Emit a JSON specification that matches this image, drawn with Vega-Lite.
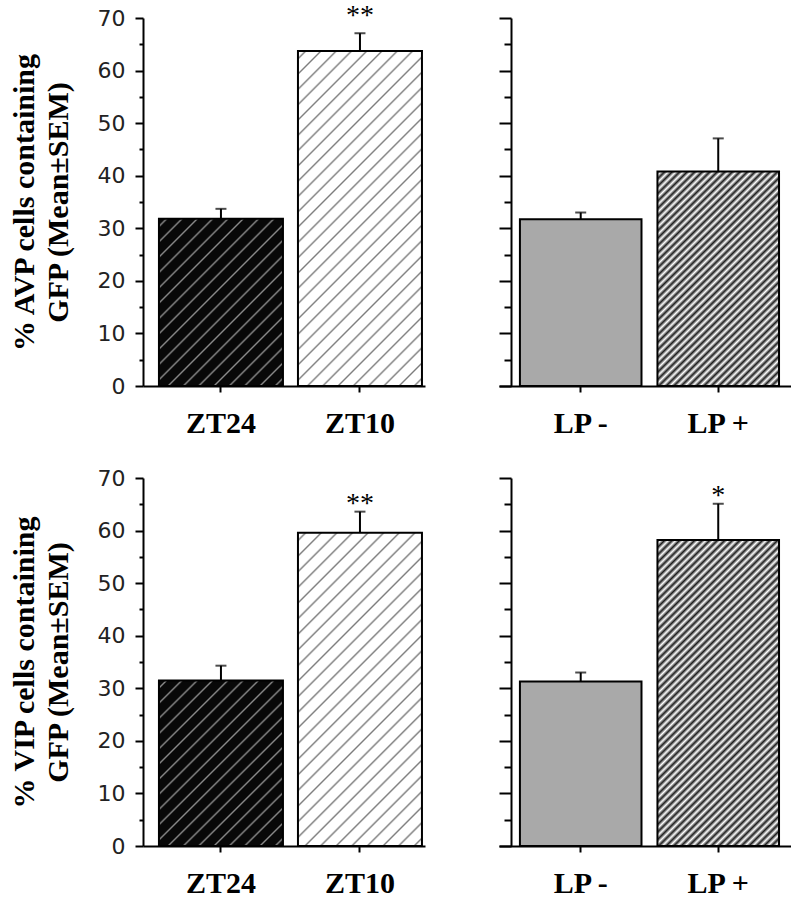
{
  "$schema": "https://vega.github.io/schema/vega-lite/v6.json",
  "background": "white",
  "padding": {"left": 8, "top": 2, "right": 0, "bottom": 0},
  "config": {
    "view": {"stroke": null},
    "axis": {"domainColor": "#000", "tickColor": "#000", "domainWidth": 2, "tickWidth": 2, "grid": false}
  },
  "data": {"values": [
    {"row": "AVP", "panel": "ZT", "group": "ZT24", "mean": 31.8, "err": 33.7, "sig": ""},
    {"row": "AVP", "panel": "ZT", "group": "ZT10", "mean": 63.7, "err": 67.1, "sig": "**"},
    {"row": "AVP", "panel": "LP", "group": "LP -", "mean": 31.7, "err": 33.0, "sig": ""},
    {"row": "AVP", "panel": "LP", "group": "LP +", "mean": 40.8, "err": 47.1, "sig": ""},
    {"row": "VIP", "panel": "ZT", "group": "ZT24", "mean": 31.5, "err": 34.3, "sig": ""},
    {"row": "VIP", "panel": "ZT", "group": "ZT10", "mean": 59.6, "err": 63.6, "sig": "**"},
    {"row": "VIP", "panel": "LP", "group": "LP -", "mean": 31.3, "err": 33.0, "sig": ""},
    {"row": "VIP", "panel": "LP", "group": "LP +", "mean": 58.2, "err": 65.1, "sig": "*"}
  ]},
  "spacing": 29,
  "vconcat": [
    {
      "spacing": 73,
      "hconcat": [
        {
          "width": 282, "height": 368,
          "transform": [{"filter": "datum.row === 'AVP' && datum.panel === 'ZT'"}],
          "encoding": {
            "x": {"field": "group", "type": "nominal",
              "scale": {"domain": ["ZT24", "ZT10"], "paddingInner": 0.108, "paddingOuter": 0.0683, "align": 0.84},
              "axis": {"title": null, "labelAngle": 0, "labelFont": "Liberation Serif", "labelFontWeight": "bold", "labelFontSize": 30, "labelColor": "#000", "labelPadding": 16, "tickSize": 6}},
            "y": {"field": "mean", "type": "quantitative",
              "scale": {"domain": [0, 70], "nice": false},
              "axis": {"title": ["% AVP cells containing", "GFP (Mean±SEM)"], "titleFont": "Liberation Serif", "titleFontSize": 30, "titleFontWeight": "bold", "titleColor": "#000", "titleLineHeight": 34, "titleX": -104, "titleY": 184, "titleAngle": -90, "titleAlign": "center", "titleBaseline": "bottom",
                "values": [0, 5, 10, 15, 20, 25, 30, 35, 40, 45, 50, 55, 60, 65, 70],
                "labelExpr": "datum.value % 10 === 0 ? datum.label : ''",
                "labelFont": "DejaVu Sans", "labelFontSize": 22, "labelColor": "#222", "labelPadding": 10,
                "tickSize": {"condition": {"test": "datum.value % 10 === 0", "value": 8}, "value": 4}}}
          },
          "layer": [
            {"transform": [{"filter": "datum.group === 'ZT24'"}],
             "mark": {"type": "bar", "stroke": "#000", "strokeWidth": 2, "fill": {"gradient": "linear", "x1": 0, "y1": 0, "x2": 0.834, "y2": 1.123, "stops": [
              {"offset": 0.0195, "color": "#080808"}, {"offset": 0.0263, "color": "#8a8a8a"}, {"offset": 0.0332, "color": "#080808"},
              {"offset": 0.0721, "color": "#080808"}, {"offset": 0.0789, "color": "#8a8a8a"}, {"offset": 0.0858, "color": "#080808"},
              {"offset": 0.1247, "color": "#080808"}, {"offset": 0.1316, "color": "#8a8a8a"}, {"offset": 0.1384, "color": "#080808"},
              {"offset": 0.1774, "color": "#080808"}, {"offset": 0.1842, "color": "#8a8a8a"}, {"offset": 0.1911, "color": "#080808"},
              {"offset": 0.2300, "color": "#080808"}, {"offset": 0.2368, "color": "#8a8a8a"}, {"offset": 0.2437, "color": "#080808"},
              {"offset": 0.2826, "color": "#080808"}, {"offset": 0.2895, "color": "#8a8a8a"}, {"offset": 0.2963, "color": "#080808"},
              {"offset": 0.3353, "color": "#080808"}, {"offset": 0.3421, "color": "#8a8a8a"}, {"offset": 0.3490, "color": "#080808"},
              {"offset": 0.3879, "color": "#080808"}, {"offset": 0.3947, "color": "#8a8a8a"}, {"offset": 0.4016, "color": "#080808"},
              {"offset": 0.4405, "color": "#080808"}, {"offset": 0.4474, "color": "#8a8a8a"}, {"offset": 0.4542, "color": "#080808"},
              {"offset": 0.4932, "color": "#080808"}, {"offset": 0.5000, "color": "#8a8a8a"}, {"offset": 0.5068, "color": "#080808"},
              {"offset": 0.5458, "color": "#080808"}, {"offset": 0.5526, "color": "#8a8a8a"}, {"offset": 0.5595, "color": "#080808"},
              {"offset": 0.5984, "color": "#080808"}, {"offset": 0.6053, "color": "#8a8a8a"}, {"offset": 0.6121, "color": "#080808"},
              {"offset": 0.6511, "color": "#080808"}, {"offset": 0.6579, "color": "#8a8a8a"}, {"offset": 0.6648, "color": "#080808"},
              {"offset": 0.7037, "color": "#080808"}, {"offset": 0.7105, "color": "#8a8a8a"}, {"offset": 0.7174, "color": "#080808"},
              {"offset": 0.7563, "color": "#080808"}, {"offset": 0.7632, "color": "#8a8a8a"}, {"offset": 0.7700, "color": "#080808"},
              {"offset": 0.8090, "color": "#080808"}, {"offset": 0.8158, "color": "#8a8a8a"}, {"offset": 0.8227, "color": "#080808"},
              {"offset": 0.8616, "color": "#080808"}, {"offset": 0.8684, "color": "#8a8a8a"}, {"offset": 0.8753, "color": "#080808"},
              {"offset": 0.9142, "color": "#080808"}, {"offset": 0.9211, "color": "#8a8a8a"}, {"offset": 0.9279, "color": "#080808"},
              {"offset": 0.9669, "color": "#080808"}, {"offset": 0.9737, "color": "#8a8a8a"}, {"offset": 0.9806, "color": "#080808"}
             ]}}},
            {"transform": [{"filter": "datum.group === 'ZT10'"}],
             "mark": {"type": "bar", "stroke": "#000", "strokeWidth": 2, "fill": {"gradient": "linear", "x1": 0, "y1": 0, "x2": 0.4474, "y2": 1.2051, "stops": [
              {"offset": 0.0123, "color": "#ffffff"}, {"offset": 0.0167, "color": "#7d7d7d"}, {"offset": 0.0210, "color": "#ffffff"},
              {"offset": 0.0457, "color": "#ffffff"}, {"offset": 0.0500, "color": "#7d7d7d"}, {"offset": 0.0543, "color": "#ffffff"},
              {"offset": 0.0790, "color": "#ffffff"}, {"offset": 0.0833, "color": "#7d7d7d"}, {"offset": 0.0877, "color": "#ffffff"},
              {"offset": 0.1123, "color": "#ffffff"}, {"offset": 0.1167, "color": "#7d7d7d"}, {"offset": 0.1210, "color": "#ffffff"},
              {"offset": 0.1457, "color": "#ffffff"}, {"offset": 0.1500, "color": "#7d7d7d"}, {"offset": 0.1543, "color": "#ffffff"},
              {"offset": 0.1790, "color": "#ffffff"}, {"offset": 0.1833, "color": "#7d7d7d"}, {"offset": 0.1877, "color": "#ffffff"},
              {"offset": 0.2123, "color": "#ffffff"}, {"offset": 0.2167, "color": "#7d7d7d"}, {"offset": 0.2210, "color": "#ffffff"},
              {"offset": 0.2457, "color": "#ffffff"}, {"offset": 0.2500, "color": "#7d7d7d"}, {"offset": 0.2543, "color": "#ffffff"},
              {"offset": 0.2790, "color": "#ffffff"}, {"offset": 0.2833, "color": "#7d7d7d"}, {"offset": 0.2877, "color": "#ffffff"},
              {"offset": 0.3123, "color": "#ffffff"}, {"offset": 0.3167, "color": "#7d7d7d"}, {"offset": 0.3210, "color": "#ffffff"},
              {"offset": 0.3457, "color": "#ffffff"}, {"offset": 0.3500, "color": "#7d7d7d"}, {"offset": 0.3543, "color": "#ffffff"},
              {"offset": 0.3790, "color": "#ffffff"}, {"offset": 0.3833, "color": "#7d7d7d"}, {"offset": 0.3877, "color": "#ffffff"},
              {"offset": 0.4123, "color": "#ffffff"}, {"offset": 0.4167, "color": "#7d7d7d"}, {"offset": 0.4210, "color": "#ffffff"},
              {"offset": 0.4457, "color": "#ffffff"}, {"offset": 0.4500, "color": "#7d7d7d"}, {"offset": 0.4543, "color": "#ffffff"},
              {"offset": 0.4790, "color": "#ffffff"}, {"offset": 0.4833, "color": "#7d7d7d"}, {"offset": 0.4877, "color": "#ffffff"},
              {"offset": 0.5123, "color": "#ffffff"}, {"offset": 0.5167, "color": "#7d7d7d"}, {"offset": 0.5210, "color": "#ffffff"},
              {"offset": 0.5457, "color": "#ffffff"}, {"offset": 0.5500, "color": "#7d7d7d"}, {"offset": 0.5543, "color": "#ffffff"},
              {"offset": 0.5790, "color": "#ffffff"}, {"offset": 0.5833, "color": "#7d7d7d"}, {"offset": 0.5877, "color": "#ffffff"},
              {"offset": 0.6123, "color": "#ffffff"}, {"offset": 0.6167, "color": "#7d7d7d"}, {"offset": 0.6210, "color": "#ffffff"},
              {"offset": 0.6457, "color": "#ffffff"}, {"offset": 0.6500, "color": "#7d7d7d"}, {"offset": 0.6543, "color": "#ffffff"},
              {"offset": 0.6790, "color": "#ffffff"}, {"offset": 0.6833, "color": "#7d7d7d"}, {"offset": 0.6877, "color": "#ffffff"},
              {"offset": 0.7123, "color": "#ffffff"}, {"offset": 0.7167, "color": "#7d7d7d"}, {"offset": 0.7210, "color": "#ffffff"},
              {"offset": 0.7457, "color": "#ffffff"}, {"offset": 0.7500, "color": "#7d7d7d"}, {"offset": 0.7543, "color": "#ffffff"},
              {"offset": 0.7790, "color": "#ffffff"}, {"offset": 0.7833, "color": "#7d7d7d"}, {"offset": 0.7877, "color": "#ffffff"},
              {"offset": 0.8123, "color": "#ffffff"}, {"offset": 0.8167, "color": "#7d7d7d"}, {"offset": 0.8210, "color": "#ffffff"},
              {"offset": 0.8457, "color": "#ffffff"}, {"offset": 0.8500, "color": "#7d7d7d"}, {"offset": 0.8543, "color": "#ffffff"},
              {"offset": 0.8790, "color": "#ffffff"}, {"offset": 0.8833, "color": "#7d7d7d"}, {"offset": 0.8877, "color": "#ffffff"},
              {"offset": 0.9123, "color": "#ffffff"}, {"offset": 0.9167, "color": "#7d7d7d"}, {"offset": 0.9210, "color": "#ffffff"},
              {"offset": 0.9457, "color": "#ffffff"}, {"offset": 0.9500, "color": "#7d7d7d"}, {"offset": 0.9543, "color": "#ffffff"},
              {"offset": 0.9790, "color": "#ffffff"}, {"offset": 0.9833, "color": "#7d7d7d"}, {"offset": 0.9877, "color": "#ffffff"}
             ]}}},
            {"mark": {"type": "rule", "strokeWidth": 2, "color": "#000"},
             "encoding": {"y2": {"field": "err"}}},
            {"mark": {"type": "tick", "orient": "horizontal", "size": 11, "thickness": 2, "color": "#000"},
             "encoding": {"y": {"field": "err", "type": "quantitative", "scale": {"domain": [0, 70], "nice": false}}}},
            {"mark": {"type": "text", "font": "Liberation Serif", "fontSize": 28, "baseline": "alphabetic", "dy": -9, "color": "#000"},
             "encoding": {"y": {"field": "err", "type": "quantitative", "scale": {"domain": [0, 70], "nice": false}}, "text": {"field": "sig"}}}
          ]
        },
        {
          "width": 292, "height": 368,
          "transform": [{"filter": "datum.row === 'AVP' && datum.panel === 'LP'"}],
          "encoding": {
            "x": {"field": "group", "type": "nominal",
              "scale": {"domain": ["LP -", "LP +"], "paddingInner": 0.116, "paddingOuter": 0.1196, "align": 0.636},
              "axis": {"title": null, "labelAngle": 0, "labelFont": "Liberation Serif", "labelFontWeight": "bold", "labelFontSize": 30, "labelColor": "#000", "labelPadding": 16, "tickSize": 6}},
            "y": {"field": "mean", "type": "quantitative",
              "scale": {"domain": [0, 70], "nice": false},
              "axis": {"title": null, "labels": false, "offset": -12,
                "values": [0, 5, 10, 15, 20, 25, 30, 35, 40, 45, 50, 55, 60, 65, 70],
                "tickSize": {"condition": {"test": "datum.value % 10 === 0", "value": 12}, "value": 7}}}
          },
          "layer": [
            {"transform": [{"filter": "datum.group === 'LP -'"}],
             "mark": {"type": "bar", "stroke": "#000", "strokeWidth": 2, "fill": "#a9a9a9"}},
            {"transform": [{"filter": "datum.group === 'LP +'"}],
             "mark": {"type": "bar", "stroke": "#000", "strokeWidth": 2, "fill": {"gradient": "linear", "x1": 0, "y1": 0, "x2": 0.6652, "y2": 1.1875, "stops": [
              {"offset": 0, "color": "#1e1e1e"}, {"offset": 0.0111, "color": "#ffffff"}, {"offset": 0.0222, "color": "#1e1e1e"}, {"offset": 0.0333, "color": "#ffffff"},
              {"offset": 0.0444, "color": "#1e1e1e"}, {"offset": 0.0556, "color": "#ffffff"}, {"offset": 0.0667, "color": "#1e1e1e"}, {"offset": 0.0778, "color": "#ffffff"},
              {"offset": 0.0889, "color": "#1e1e1e"}, {"offset": 0.1, "color": "#ffffff"}, {"offset": 0.1111, "color": "#1e1e1e"}, {"offset": 0.1222, "color": "#ffffff"},
              {"offset": 0.1333, "color": "#1e1e1e"}, {"offset": 0.1444, "color": "#ffffff"}, {"offset": 0.1556, "color": "#1e1e1e"}, {"offset": 0.1667, "color": "#ffffff"},
              {"offset": 0.1778, "color": "#1e1e1e"}, {"offset": 0.1889, "color": "#ffffff"}, {"offset": 0.2, "color": "#1e1e1e"}, {"offset": 0.2111, "color": "#ffffff"},
              {"offset": 0.2222, "color": "#1e1e1e"}, {"offset": 0.2333, "color": "#ffffff"}, {"offset": 0.2444, "color": "#1e1e1e"}, {"offset": 0.2556, "color": "#ffffff"},
              {"offset": 0.2667, "color": "#1e1e1e"}, {"offset": 0.2778, "color": "#ffffff"}, {"offset": 0.2889, "color": "#1e1e1e"}, {"offset": 0.3, "color": "#ffffff"},
              {"offset": 0.3111, "color": "#1e1e1e"}, {"offset": 0.3222, "color": "#ffffff"}, {"offset": 0.3333, "color": "#1e1e1e"}, {"offset": 0.3444, "color": "#ffffff"},
              {"offset": 0.3556, "color": "#1e1e1e"}, {"offset": 0.3667, "color": "#ffffff"}, {"offset": 0.3778, "color": "#1e1e1e"}, {"offset": 0.3889, "color": "#ffffff"},
              {"offset": 0.4, "color": "#1e1e1e"}, {"offset": 0.4111, "color": "#ffffff"}, {"offset": 0.4222, "color": "#1e1e1e"}, {"offset": 0.4333, "color": "#ffffff"},
              {"offset": 0.4444, "color": "#1e1e1e"}, {"offset": 0.4556, "color": "#ffffff"}, {"offset": 0.4667, "color": "#1e1e1e"}, {"offset": 0.4778, "color": "#ffffff"},
              {"offset": 0.4889, "color": "#1e1e1e"}, {"offset": 0.5, "color": "#ffffff"}, {"offset": 0.5111, "color": "#1e1e1e"}, {"offset": 0.5222, "color": "#ffffff"},
              {"offset": 0.5333, "color": "#1e1e1e"}, {"offset": 0.5444, "color": "#ffffff"}, {"offset": 0.5556, "color": "#1e1e1e"}, {"offset": 0.5667, "color": "#ffffff"},
              {"offset": 0.5778, "color": "#1e1e1e"}, {"offset": 0.5889, "color": "#ffffff"}, {"offset": 0.6, "color": "#1e1e1e"}, {"offset": 0.6111, "color": "#ffffff"},
              {"offset": 0.6222, "color": "#1e1e1e"}, {"offset": 0.6333, "color": "#ffffff"}, {"offset": 0.6444, "color": "#1e1e1e"}, {"offset": 0.6556, "color": "#ffffff"},
              {"offset": 0.6667, "color": "#1e1e1e"}, {"offset": 0.6778, "color": "#ffffff"}, {"offset": 0.6889, "color": "#1e1e1e"}, {"offset": 0.7, "color": "#ffffff"},
              {"offset": 0.7111, "color": "#1e1e1e"}, {"offset": 0.7222, "color": "#ffffff"}, {"offset": 0.7333, "color": "#1e1e1e"}, {"offset": 0.7444, "color": "#ffffff"},
              {"offset": 0.7556, "color": "#1e1e1e"}, {"offset": 0.7667, "color": "#ffffff"}, {"offset": 0.7778, "color": "#1e1e1e"}, {"offset": 0.7889, "color": "#ffffff"},
              {"offset": 0.8, "color": "#1e1e1e"}, {"offset": 0.8111, "color": "#ffffff"}, {"offset": 0.8222, "color": "#1e1e1e"}, {"offset": 0.8333, "color": "#ffffff"},
              {"offset": 0.8444, "color": "#1e1e1e"}, {"offset": 0.8556, "color": "#ffffff"}, {"offset": 0.8667, "color": "#1e1e1e"}, {"offset": 0.8778, "color": "#ffffff"},
              {"offset": 0.8889, "color": "#1e1e1e"}, {"offset": 0.9, "color": "#ffffff"}, {"offset": 0.9111, "color": "#1e1e1e"}, {"offset": 0.9222, "color": "#ffffff"},
              {"offset": 0.9333, "color": "#1e1e1e"}, {"offset": 0.9444, "color": "#ffffff"}, {"offset": 0.9556, "color": "#1e1e1e"}, {"offset": 0.9667, "color": "#ffffff"},
              {"offset": 0.9778, "color": "#1e1e1e"}, {"offset": 0.9889, "color": "#ffffff"}, {"offset": 1, "color": "#1e1e1e"}
             ]}}},
            {"mark": {"type": "rule", "strokeWidth": 2, "color": "#000"},
             "encoding": {"y2": {"field": "err"}}},
            {"mark": {"type": "tick", "orient": "horizontal", "size": 11, "thickness": 2, "color": "#000"},
             "encoding": {"y": {"field": "err", "type": "quantitative", "scale": {"domain": [0, 70], "nice": false}}}}
          ]
        }
      ]
    },
    {
      "spacing": 73,
      "hconcat": [
        {
          "width": 282, "height": 368,
          "transform": [{"filter": "datum.row === 'VIP' && datum.panel === 'ZT'"}],
          "encoding": {
            "x": {"field": "group", "type": "nominal",
              "scale": {"domain": ["ZT24", "ZT10"], "paddingInner": 0.108, "paddingOuter": 0.0683, "align": 0.84},
              "axis": {"title": null, "labelAngle": 0, "labelFont": "Liberation Serif", "labelFontWeight": "bold", "labelFontSize": 30, "labelColor": "#000", "labelPadding": 16, "tickSize": 6}},
            "y": {"field": "mean", "type": "quantitative",
              "scale": {"domain": [0, 70], "nice": false},
              "axis": {"title": ["% VIP cells containing", "GFP (Mean±SEM)"], "titleFont": "Liberation Serif", "titleFontSize": 30, "titleFontWeight": "bold", "titleColor": "#000", "titleLineHeight": 34, "titleX": -104, "titleY": 184, "titleAngle": -90, "titleAlign": "center", "titleBaseline": "bottom",
                "values": [0, 5, 10, 15, 20, 25, 30, 35, 40, 45, 50, 55, 60, 65, 70],
                "labelExpr": "datum.value % 10 === 0 ? datum.label : ''",
                "labelFont": "DejaVu Sans", "labelFontSize": 22, "labelColor": "#222", "labelPadding": 10,
                "tickSize": {"condition": {"test": "datum.value % 10 === 0", "value": 8}, "value": 4}}}
          },
          "layer": [
            {"transform": [{"filter": "datum.group === 'ZT24'"}],
             "mark": {"type": "bar", "stroke": "#000", "strokeWidth": 2, "fill": {"gradient": "linear", "x1": 0, "y1": 0, "x2": 0.834, "y2": 1.123, "stops": [
              {"offset": 0.0195, "color": "#080808"}, {"offset": 0.0263, "color": "#8a8a8a"}, {"offset": 0.0332, "color": "#080808"},
              {"offset": 0.0721, "color": "#080808"}, {"offset": 0.0789, "color": "#8a8a8a"}, {"offset": 0.0858, "color": "#080808"},
              {"offset": 0.1247, "color": "#080808"}, {"offset": 0.1316, "color": "#8a8a8a"}, {"offset": 0.1384, "color": "#080808"},
              {"offset": 0.1774, "color": "#080808"}, {"offset": 0.1842, "color": "#8a8a8a"}, {"offset": 0.1911, "color": "#080808"},
              {"offset": 0.2300, "color": "#080808"}, {"offset": 0.2368, "color": "#8a8a8a"}, {"offset": 0.2437, "color": "#080808"},
              {"offset": 0.2826, "color": "#080808"}, {"offset": 0.2895, "color": "#8a8a8a"}, {"offset": 0.2963, "color": "#080808"},
              {"offset": 0.3353, "color": "#080808"}, {"offset": 0.3421, "color": "#8a8a8a"}, {"offset": 0.3490, "color": "#080808"},
              {"offset": 0.3879, "color": "#080808"}, {"offset": 0.3947, "color": "#8a8a8a"}, {"offset": 0.4016, "color": "#080808"},
              {"offset": 0.4405, "color": "#080808"}, {"offset": 0.4474, "color": "#8a8a8a"}, {"offset": 0.4542, "color": "#080808"},
              {"offset": 0.4932, "color": "#080808"}, {"offset": 0.5000, "color": "#8a8a8a"}, {"offset": 0.5068, "color": "#080808"},
              {"offset": 0.5458, "color": "#080808"}, {"offset": 0.5526, "color": "#8a8a8a"}, {"offset": 0.5595, "color": "#080808"},
              {"offset": 0.5984, "color": "#080808"}, {"offset": 0.6053, "color": "#8a8a8a"}, {"offset": 0.6121, "color": "#080808"},
              {"offset": 0.6511, "color": "#080808"}, {"offset": 0.6579, "color": "#8a8a8a"}, {"offset": 0.6648, "color": "#080808"},
              {"offset": 0.7037, "color": "#080808"}, {"offset": 0.7105, "color": "#8a8a8a"}, {"offset": 0.7174, "color": "#080808"},
              {"offset": 0.7563, "color": "#080808"}, {"offset": 0.7632, "color": "#8a8a8a"}, {"offset": 0.7700, "color": "#080808"},
              {"offset": 0.8090, "color": "#080808"}, {"offset": 0.8158, "color": "#8a8a8a"}, {"offset": 0.8227, "color": "#080808"},
              {"offset": 0.8616, "color": "#080808"}, {"offset": 0.8684, "color": "#8a8a8a"}, {"offset": 0.8753, "color": "#080808"},
              {"offset": 0.9142, "color": "#080808"}, {"offset": 0.9211, "color": "#8a8a8a"}, {"offset": 0.9279, "color": "#080808"},
              {"offset": 0.9669, "color": "#080808"}, {"offset": 0.9737, "color": "#8a8a8a"}, {"offset": 0.9806, "color": "#080808"}
             ]}}},
            {"transform": [{"filter": "datum.group === 'ZT10'"}],
             "mark": {"type": "bar", "stroke": "#000", "strokeWidth": 2, "fill": {"gradient": "linear", "x1": 0, "y1": 0, "x2": 0.4781, "y2": 1.2068, "stops": [
              {"offset": 0.0132, "color": "#ffffff"}, {"offset": 0.0179, "color": "#7d7d7d"}, {"offset": 0.0225, "color": "#ffffff"},
              {"offset": 0.0489, "color": "#ffffff"}, {"offset": 0.0536, "color": "#7d7d7d"}, {"offset": 0.0582, "color": "#ffffff"},
              {"offset": 0.0846, "color": "#ffffff"}, {"offset": 0.0893, "color": "#7d7d7d"}, {"offset": 0.0939, "color": "#ffffff"},
              {"offset": 0.1204, "color": "#ffffff"}, {"offset": 0.1250, "color": "#7d7d7d"}, {"offset": 0.1296, "color": "#ffffff"},
              {"offset": 0.1561, "color": "#ffffff"}, {"offset": 0.1607, "color": "#7d7d7d"}, {"offset": 0.1654, "color": "#ffffff"},
              {"offset": 0.1918, "color": "#ffffff"}, {"offset": 0.1964, "color": "#7d7d7d"}, {"offset": 0.2011, "color": "#ffffff"},
              {"offset": 0.2275, "color": "#ffffff"}, {"offset": 0.2321, "color": "#7d7d7d"}, {"offset": 0.2368, "color": "#ffffff"},
              {"offset": 0.2632, "color": "#ffffff"}, {"offset": 0.2679, "color": "#7d7d7d"}, {"offset": 0.2725, "color": "#ffffff"},
              {"offset": 0.2989, "color": "#ffffff"}, {"offset": 0.3036, "color": "#7d7d7d"}, {"offset": 0.3082, "color": "#ffffff"},
              {"offset": 0.3346, "color": "#ffffff"}, {"offset": 0.3393, "color": "#7d7d7d"}, {"offset": 0.3439, "color": "#ffffff"},
              {"offset": 0.3704, "color": "#ffffff"}, {"offset": 0.3750, "color": "#7d7d7d"}, {"offset": 0.3796, "color": "#ffffff"},
              {"offset": 0.4061, "color": "#ffffff"}, {"offset": 0.4107, "color": "#7d7d7d"}, {"offset": 0.4154, "color": "#ffffff"},
              {"offset": 0.4418, "color": "#ffffff"}, {"offset": 0.4464, "color": "#7d7d7d"}, {"offset": 0.4511, "color": "#ffffff"},
              {"offset": 0.4775, "color": "#ffffff"}, {"offset": 0.4821, "color": "#7d7d7d"}, {"offset": 0.4868, "color": "#ffffff"},
              {"offset": 0.5132, "color": "#ffffff"}, {"offset": 0.5179, "color": "#7d7d7d"}, {"offset": 0.5225, "color": "#ffffff"},
              {"offset": 0.5489, "color": "#ffffff"}, {"offset": 0.5536, "color": "#7d7d7d"}, {"offset": 0.5582, "color": "#ffffff"},
              {"offset": 0.5846, "color": "#ffffff"}, {"offset": 0.5893, "color": "#7d7d7d"}, {"offset": 0.5939, "color": "#ffffff"},
              {"offset": 0.6204, "color": "#ffffff"}, {"offset": 0.6250, "color": "#7d7d7d"}, {"offset": 0.6296, "color": "#ffffff"},
              {"offset": 0.6561, "color": "#ffffff"}, {"offset": 0.6607, "color": "#7d7d7d"}, {"offset": 0.6654, "color": "#ffffff"},
              {"offset": 0.6918, "color": "#ffffff"}, {"offset": 0.6964, "color": "#7d7d7d"}, {"offset": 0.7011, "color": "#ffffff"},
              {"offset": 0.7275, "color": "#ffffff"}, {"offset": 0.7321, "color": "#7d7d7d"}, {"offset": 0.7368, "color": "#ffffff"},
              {"offset": 0.7632, "color": "#ffffff"}, {"offset": 0.7679, "color": "#7d7d7d"}, {"offset": 0.7725, "color": "#ffffff"},
              {"offset": 0.7989, "color": "#ffffff"}, {"offset": 0.8036, "color": "#7d7d7d"}, {"offset": 0.8082, "color": "#ffffff"},
              {"offset": 0.8346, "color": "#ffffff"}, {"offset": 0.8393, "color": "#7d7d7d"}, {"offset": 0.8439, "color": "#ffffff"},
              {"offset": 0.8704, "color": "#ffffff"}, {"offset": 0.8750, "color": "#7d7d7d"}, {"offset": 0.8796, "color": "#ffffff"},
              {"offset": 0.9061, "color": "#ffffff"}, {"offset": 0.9107, "color": "#7d7d7d"}, {"offset": 0.9154, "color": "#ffffff"},
              {"offset": 0.9418, "color": "#ffffff"}, {"offset": 0.9464, "color": "#7d7d7d"}, {"offset": 0.9511, "color": "#ffffff"},
              {"offset": 0.9775, "color": "#ffffff"}, {"offset": 0.9821, "color": "#7d7d7d"}, {"offset": 0.9868, "color": "#ffffff"}
             ]}}},
            {"mark": {"type": "rule", "strokeWidth": 2, "color": "#000"},
             "encoding": {"y2": {"field": "err"}}},
            {"mark": {"type": "tick", "orient": "horizontal", "size": 11, "thickness": 2, "color": "#000"},
             "encoding": {"y": {"field": "err", "type": "quantitative", "scale": {"domain": [0, 70], "nice": false}}}},
            {"mark": {"type": "text", "font": "Liberation Serif", "fontSize": 28, "baseline": "alphabetic", "dy": 0, "color": "#000"},
             "encoding": {"y": {"field": "err", "type": "quantitative", "scale": {"domain": [0, 70], "nice": false}}, "text": {"field": "sig"}}}
          ]
        },
        {
          "width": 292, "height": 368,
          "transform": [{"filter": "datum.row === 'VIP' && datum.panel === 'LP'"}],
          "encoding": {
            "x": {"field": "group", "type": "nominal",
              "scale": {"domain": ["LP -", "LP +"], "paddingInner": 0.116, "paddingOuter": 0.1196, "align": 0.636},
              "axis": {"title": null, "labelAngle": 0, "labelFont": "Liberation Serif", "labelFontWeight": "bold", "labelFontSize": 30, "labelColor": "#000", "labelPadding": 16, "tickSize": 6}},
            "y": {"field": "mean", "type": "quantitative",
              "scale": {"domain": [0, 70], "nice": false},
              "axis": {"title": null, "labels": false, "offset": -12,
                "values": [0, 5, 10, 15, 20, 25, 30, 35, 40, 45, 50, 55, 60, 65, 70],
                "tickSize": {"condition": {"test": "datum.value % 10 === 0", "value": 12}, "value": 7}}}
          },
          "layer": [
            {"transform": [{"filter": "datum.group === 'LP -'"}],
             "mark": {"type": "bar", "stroke": "#000", "strokeWidth": 2, "fill": "#a9a9a9"}},
            {"transform": [{"filter": "datum.group === 'LP +'"}],
             "mark": {"type": "bar", "stroke": "#000", "strokeWidth": 2, "fill": {"gradient": "linear", "x1": 0, "y1": 0, "x2": 0.4772, "y2": 1.2067, "stops": [
              {"offset": 0, "color": "#1e1e1e"}, {"offset": 0.0088, "color": "#ffffff"}, {"offset": 0.0175, "color": "#1e1e1e"}, {"offset": 0.0263, "color": "#ffffff"},
              {"offset": 0.0351, "color": "#1e1e1e"}, {"offset": 0.0439, "color": "#ffffff"}, {"offset": 0.0526, "color": "#1e1e1e"}, {"offset": 0.0614, "color": "#ffffff"},
              {"offset": 0.0702, "color": "#1e1e1e"}, {"offset": 0.0789, "color": "#ffffff"}, {"offset": 0.0877, "color": "#1e1e1e"}, {"offset": 0.0965, "color": "#ffffff"},
              {"offset": 0.1053, "color": "#1e1e1e"}, {"offset": 0.1140, "color": "#ffffff"}, {"offset": 0.1228, "color": "#1e1e1e"}, {"offset": 0.1316, "color": "#ffffff"},
              {"offset": 0.1404, "color": "#1e1e1e"}, {"offset": 0.1491, "color": "#ffffff"}, {"offset": 0.1579, "color": "#1e1e1e"}, {"offset": 0.1667, "color": "#ffffff"},
              {"offset": 0.1754, "color": "#1e1e1e"}, {"offset": 0.1842, "color": "#ffffff"}, {"offset": 0.1930, "color": "#1e1e1e"}, {"offset": 0.2018, "color": "#ffffff"},
              {"offset": 0.2105, "color": "#1e1e1e"}, {"offset": 0.2193, "color": "#ffffff"}, {"offset": 0.2281, "color": "#1e1e1e"}, {"offset": 0.2368, "color": "#ffffff"},
              {"offset": 0.2456, "color": "#1e1e1e"}, {"offset": 0.2544, "color": "#ffffff"}, {"offset": 0.2632, "color": "#1e1e1e"}, {"offset": 0.2719, "color": "#ffffff"},
              {"offset": 0.2807, "color": "#1e1e1e"}, {"offset": 0.2895, "color": "#ffffff"}, {"offset": 0.2982, "color": "#1e1e1e"}, {"offset": 0.3070, "color": "#ffffff"},
              {"offset": 0.3158, "color": "#1e1e1e"}, {"offset": 0.3246, "color": "#ffffff"}, {"offset": 0.3333, "color": "#1e1e1e"}, {"offset": 0.3421, "color": "#ffffff"},
              {"offset": 0.3509, "color": "#1e1e1e"}, {"offset": 0.3596, "color": "#ffffff"}, {"offset": 0.3684, "color": "#1e1e1e"}, {"offset": 0.3772, "color": "#ffffff"},
              {"offset": 0.3860, "color": "#1e1e1e"}, {"offset": 0.3947, "color": "#ffffff"}, {"offset": 0.4035, "color": "#1e1e1e"}, {"offset": 0.4123, "color": "#ffffff"},
              {"offset": 0.4211, "color": "#1e1e1e"}, {"offset": 0.4298, "color": "#ffffff"}, {"offset": 0.4386, "color": "#1e1e1e"}, {"offset": 0.4474, "color": "#ffffff"},
              {"offset": 0.4561, "color": "#1e1e1e"}, {"offset": 0.4649, "color": "#ffffff"}, {"offset": 0.4737, "color": "#1e1e1e"}, {"offset": 0.4825, "color": "#ffffff"},
              {"offset": 0.4912, "color": "#1e1e1e"}, {"offset": 0.5, "color": "#ffffff"}, {"offset": 0.5088, "color": "#1e1e1e"}, {"offset": 0.5175, "color": "#ffffff"},
              {"offset": 0.5263, "color": "#1e1e1e"}, {"offset": 0.5351, "color": "#ffffff"}, {"offset": 0.5439, "color": "#1e1e1e"}, {"offset": 0.5526, "color": "#ffffff"},
              {"offset": 0.5614, "color": "#1e1e1e"}, {"offset": 0.5702, "color": "#ffffff"}, {"offset": 0.5789, "color": "#1e1e1e"}, {"offset": 0.5877, "color": "#ffffff"},
              {"offset": 0.5965, "color": "#1e1e1e"}, {"offset": 0.6053, "color": "#ffffff"}, {"offset": 0.6140, "color": "#1e1e1e"}, {"offset": 0.6228, "color": "#ffffff"},
              {"offset": 0.6316, "color": "#1e1e1e"}, {"offset": 0.6404, "color": "#ffffff"}, {"offset": 0.6491, "color": "#1e1e1e"}, {"offset": 0.6579, "color": "#ffffff"},
              {"offset": 0.6667, "color": "#1e1e1e"}, {"offset": 0.6754, "color": "#ffffff"}, {"offset": 0.6842, "color": "#1e1e1e"}, {"offset": 0.6930, "color": "#ffffff"},
              {"offset": 0.7018, "color": "#1e1e1e"}, {"offset": 0.7105, "color": "#ffffff"}, {"offset": 0.7193, "color": "#1e1e1e"}, {"offset": 0.7281, "color": "#ffffff"},
              {"offset": 0.7368, "color": "#1e1e1e"}, {"offset": 0.7456, "color": "#ffffff"}, {"offset": 0.7544, "color": "#1e1e1e"}, {"offset": 0.7632, "color": "#ffffff"},
              {"offset": 0.7719, "color": "#1e1e1e"}, {"offset": 0.7807, "color": "#ffffff"}, {"offset": 0.7895, "color": "#1e1e1e"}, {"offset": 0.7982, "color": "#ffffff"},
              {"offset": 0.8070, "color": "#1e1e1e"}, {"offset": 0.8158, "color": "#ffffff"}, {"offset": 0.8246, "color": "#1e1e1e"}, {"offset": 0.8333, "color": "#ffffff"},
              {"offset": 0.8421, "color": "#1e1e1e"}, {"offset": 0.8509, "color": "#ffffff"}, {"offset": 0.8596, "color": "#1e1e1e"}, {"offset": 0.8684, "color": "#ffffff"},
              {"offset": 0.8772, "color": "#1e1e1e"}, {"offset": 0.8860, "color": "#ffffff"}, {"offset": 0.8947, "color": "#1e1e1e"}, {"offset": 0.9035, "color": "#ffffff"},
              {"offset": 0.9123, "color": "#1e1e1e"}, {"offset": 0.9211, "color": "#ffffff"}, {"offset": 0.9298, "color": "#1e1e1e"}, {"offset": 0.9386, "color": "#ffffff"},
              {"offset": 0.9474, "color": "#1e1e1e"}, {"offset": 0.9561, "color": "#ffffff"}, {"offset": 0.9649, "color": "#1e1e1e"}, {"offset": 0.9737, "color": "#ffffff"},
              {"offset": 0.9825, "color": "#1e1e1e"}, {"offset": 0.9912, "color": "#ffffff"}, {"offset": 1, "color": "#1e1e1e"}
             ]}}},
            {"mark": {"type": "rule", "strokeWidth": 2, "color": "#000"},
             "encoding": {"y2": {"field": "err"}}},
            {"mark": {"type": "tick", "orient": "horizontal", "size": 11, "thickness": 2, "color": "#000"},
             "encoding": {"y": {"field": "err", "type": "quantitative", "scale": {"domain": [0, 70], "nice": false}}}},
            {"mark": {"type": "text", "font": "Liberation Serif", "fontSize": 28, "baseline": "alphabetic", "dy": 0, "color": "#000"},
             "encoding": {"y": {"field": "err", "type": "quantitative", "scale": {"domain": [0, 70], "nice": false}}, "text": {"field": "sig"}}}
          ]
        }
      ]
    }
  ]
}
